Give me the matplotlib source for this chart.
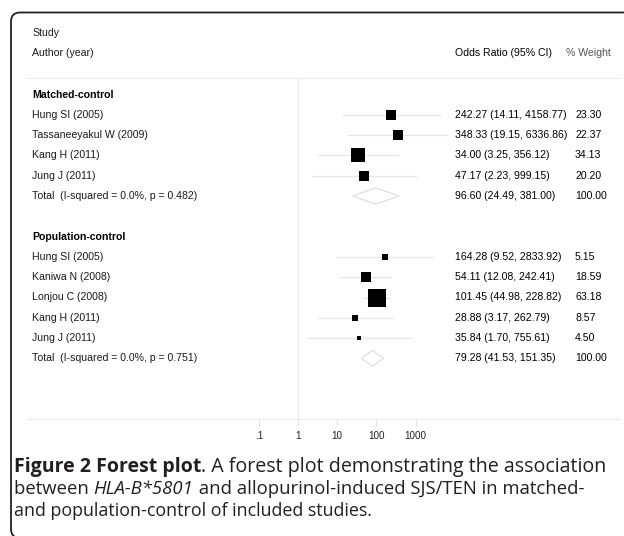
import numpy as np
import matplotlib.pyplot as plt
import matplotlib.transforms as mtransforms
from matplotlib.patches import FancyBboxPatch

# ---- data ----
groups = ['Matched-control', 'Population-control']
studies = [
    ['Hung SI (2005)', 'Tassaneeyakul W (2009)', 'Kang H (2011)', 'Jung J (2011)'],
    ['Hung SI (2005)', 'Kaniwa N (2008)', 'Lonjou C (2008)', 'Kang H (2011)', 'Jung J (2011)'],
]
odds = [[242.27, 348.33, 34.00, 47.17], [164.28, 54.11, 101.45, 28.88, 35.84]]
ci_low = [[14.11, 19.15, 3.25, 2.23], [9.52, 12.08, 44.98, 3.17, 1.70]]
ci_high = [[4158.77, 6336.86, 356.12, 999.15], [2833.92, 242.41, 228.82, 262.79, 755.61]]
weights = [[23.30, 22.37, 34.13, 20.20], [5.15, 18.59, 63.18, 8.57, 4.50]]
total_or = [96.60, 79.28]
total_low = [24.49, 41.53]
total_high = [381.00, 151.35]
total_label = ['Total  (I-squared = 0.0%, p = 0.482)', 'Total  (I-squared = 0.0%, p = 0.751)']
xticks = [0.1, 1, 10, 100, 1000]
xtick_labels = ['.1', '1', '10', '100', '1000']

W, H = 624, 536
fig = plt.figure(figsize=(W / 100, H / 100), dpi=100)
plt.rcParams['font.family'] = ['Liberation Sans', 'DejaVu Sans']


def fx(px):
    return px / W


def fy(py):
    return 1 - py / H


# plot area (pixels): x 27..620, y 78..419 ; null line at x=298, 39.2 px per decade
left_px, right_px, top_px, bot_px = 27, 620, 78, 419
ax = fig.add_axes([fx(left_px), fy(bot_px), fx(right_px - left_px), (bot_px - top_px) / H])
ax.set_xscale('log')
dec = 39.2
ax.set_xlim(10 ** ((left_px - 298) / dec), 10 ** ((right_px - 298) / dec))
row0, rstep = 94.5, 20.3
ax.set_ylim((bot_px - row0) / rstep, (top_px - row0) / rstep)

grey = '#e6e6e6'
for s in ['left', 'right']:
    ax.spines[s].set_visible(False)
for s in ['top', 'bottom']:
    ax.spines[s].set_color('#ececec')
    ax.spines[s].set_linewidth(0.8)
ax.set_yticks([])
ax.set_xticks(xticks)
ax.set_xticklabels(xtick_labels)
ax.minorticks_off()
ax.tick_params(axis='x', length=5, width=0.8, color='#e0e0e0', labelsize=7.1, pad=3.5,
               labelcolor='#222222')
ax.axvline(1, color=grey, lw=0.8, zorder=0)

tr = mtransforms.blended_transform_factory(fig.transFigure, ax.transData)
fs = 7.6
tc = '#1a1a1a'
xl, xo, xw = fx(32), fx(455), fx(575)

# headers
ax.text(xl, -3.05, 'Study', transform=tr, fontsize=fs, va='center', clip_on=False, color=tc)
ax.text(xl, -2.02, 'Author (year)', transform=tr, fontsize=fs, va='center', clip_on=False,
        color=tc)
ax.text(xo, -2.02, 'Odds Ratio (95% CI)', transform=tr, fontsize=fs, va='center',
        clip_on=False, color='black')
ax.text(fx(566), -2.02, '% Weight', transform=tr, fontsize=fs, va='center', clip_on=False,
        color='#555555')

row = 0
for g in range(len(groups)):
    ax.text(xl, row, groups[g], transform=tr, fontsize=fs, va='center', fontweight='bold',
            color='black')
    row += 1
    for i in range(len(studies[g])):
        ax.plot([ci_low[g][i], ci_high[g][i]], [row, row], color=grey, lw=0.9, zorder=1)
        side = 2.26 * np.sqrt(weights[g][i]) * 0.72
        ax.scatter([odds[g][i]], [row], marker='s', s=side ** 2, color='black', zorder=3,
                   linewidths=0)
        ax.text(xl, row, studies[g][i], transform=tr, fontsize=fs, va='center', color=tc)
        ax.text(xo, row, '%.2f (%.2f, %.2f)' % (odds[g][i], ci_low[g][i], ci_high[g][i]),
                transform=tr, fontsize=fs, va='center', color='black')
        ax.text(xw, row, '%.2f' % weights[g][i], transform=tr, fontsize=fs, va='center',
                color='black')
        row += 1
    ax.fill([total_low[g], total_or[g], total_high[g], total_or[g]],
            [row, row - 0.4, row, row + 0.4], facecolor='white', edgecolor='#dcdcdc',
            lw=0.8, zorder=2)
    ax.text(xl, row, total_label[g], transform=tr, fontsize=fs, va='center', color=tc)
    ax.text(xo, row, '%.2f (%.2f, %.2f)' % (total_or[g], total_low[g], total_high[g]),
            transform=tr, fontsize=fs, va='center', color='black')
    ax.text(xw, row, '100.00', transform=tr, fontsize=fs, va='center', color='black')
    row += 2

# rounded frame in pixel units, running off the right and bottom edge
frame = FancyBboxPatch((11, H - 538), 700, 538 - 12.5,
                       boxstyle='round,pad=0,rounding_size=9',
                       transform=mtransforms.IdentityTransform(),
                       facecolor='none', edgecolor='#222222', lw=1.3, clip_on=False)
fig.patches.append(frame)

# caption with mixed styles
cap_font = ['Open Sans', 'DejaVu Sans']
cap_col = '#231f20'
lines = [
    [('Figure 2 Forest plot', 'bold', 'normal', 14.0),
     ('. A forest plot demonstrating the association', 'normal', 'normal', 14.1)],
    [('between ', 'normal', 'normal', 13.3), ('HLA-B*5801', 'normal', 'italic', 13.3),
     (' and allopurinol-induced SJS/TEN in matched-', 'normal', 'normal', 13.3)],
    [('and population-control of included studies.', 'normal', 'normal', 12.9)],
]
line_y = [466, 488, 510]
for ln, yy in zip(lines, line_y):
    prev = None
    for txt, wt, st, size in ln:
        t = fig.text(fx(14), fy(yy), txt, fontsize=size, fontweight=wt, fontstyle=st,
                     family=cap_font, color=cap_col, va='baseline', ha='left')
        if prev is not None:
            fig.canvas.draw()
            bb = prev.get_window_extent()
            t.set_position((bb.x1 / W, fy(yy)))
        prev = t
# move baselines down so each caption line is centred near its y
for t in fig.texts:
    x, y = t.get_position()
    t.set_position((x, y - 6 / H))

fig.savefig('out.png', dpi=100)
